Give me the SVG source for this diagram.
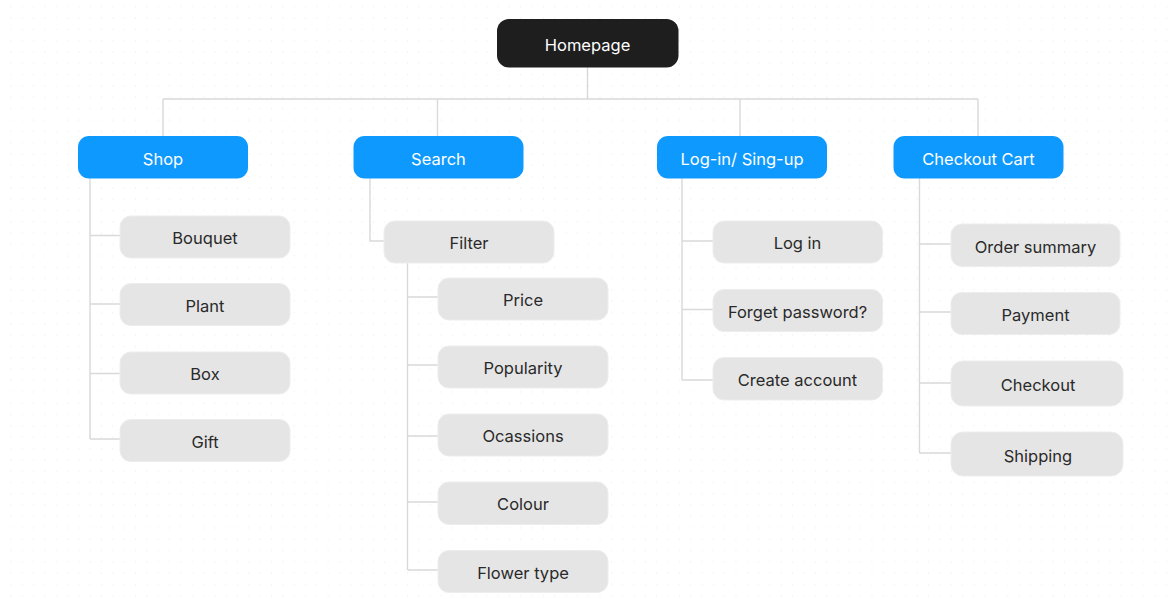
<svg xmlns="http://www.w3.org/2000/svg" width="1169" height="599" viewBox="0 0 1169 599">
<defs>
<pattern id="dots" x="0" y="0" width="11.33" height="11.33" patternUnits="userSpaceOnUse">
<rect x="11" y="6" width="1.4" height="1.4" fill="#cdcdcd"/>
</pattern>
<style>
.bg{fill:#ffffff}
.grid{fill:url(#dots)}
.conn{fill:none;stroke:#d9d9d9;stroke-width:1.4}
.root rect{fill:#1e1e1e}
.cat rect{fill:#0e99ff}
.leaf rect{fill:#e5e5e5;stroke:#ededed;stroke-width:1}
text{font-family:Inter,"Noto Sans","Liberation Sans",sans-serif;font-size:16.5px;text-anchor:middle;dominant-baseline:central}
.root text,.cat text{fill:#ffffff}
.leaf text{fill:#2a2a2a}
</style>
</defs>
<rect class="bg" width="1169" height="599"/>
<rect class="grid" width="1169" height="599"/>

<g id="connectors">
<path class="conn" d="M587.5 67 V99 M163 99 H978 M163 99 V136 M437.5 99 V136 M740 99 V136 M978 99 V136"/>
<path class="conn" d="M90 178 V439 M90 235.5 H120 M90 304 H120 M90 373.5 H120 M90 439 H120"/>
<path class="conn" d="M370 178 V241 H384"/>
<path class="conn" d="M407.5 263 V570 M407.5 297 H438 M407.5 365 H438 M407.5 436 H438 M407.5 502 H438 M407.5 570 H438"/>
<path class="conn" d="M682 178 V380 M682 241 H713 M682 309.5 H713 M682 380 H713"/>
<path class="conn" d="M919.5 178 V453 M919.5 244 H951 M919.5 312 H951 M919.5 383 H951 M919.5 453 H951"/>
</g>

<g id="homepage" class="root"><rect x="497" y="19" width="181.5" height="48.5" rx="12"/><text x="587.5" y="44.5">Homepage</text></g>

<g id="shop" class="cat"><rect x="78" y="136" width="170" height="42.5" rx="11"/><text x="163" y="158.5">Shop</text></g>
<g id="search" class="cat"><rect x="353.5" y="136" width="170" height="42.5" rx="11"/><text x="438.5" y="158.5">Search</text></g>
<g id="login-signup" class="cat"><rect x="657" y="136" width="170" height="42.5" rx="11"/><text x="742" y="158.5">Log-in/ Sing-up</text></g>
<g id="checkout-cart" class="cat"><rect x="893.5" y="136" width="170" height="42.5" rx="11"/><text x="978.5" y="158.5">Checkout Cart</text></g>

<g id="bouquet" class="leaf"><rect x="120" y="216" width="170" height="42" rx="11"/><text x="205" y="238">Bouquet</text></g>
<g id="plant" class="leaf"><rect x="120" y="283.5" width="170" height="42" rx="11"/><text x="205" y="305.5">Plant</text></g>
<g id="box" class="leaf"><rect x="120" y="352" width="170" height="42" rx="11"/><text x="205" y="374">Box</text></g>
<g id="gift" class="leaf"><rect x="120" y="419.5" width="170" height="42" rx="11"/><text x="205" y="441.5">Gift</text></g>

<g id="filter" class="leaf"><rect x="384" y="221" width="170" height="42" rx="11"/><text x="469" y="243">Filter</text></g>
<g id="price" class="leaf"><rect x="438" y="278" width="170" height="42" rx="11"/><text x="523" y="300">Price</text></g>
<g id="popularity" class="leaf"><rect x="438" y="346" width="170" height="42" rx="11"/><text x="523" y="368">Popularity</text></g>
<g id="ocassions" class="leaf"><rect x="438" y="414" width="170" height="42" rx="11"/><text x="523" y="436">Ocassions</text></g>
<g id="colour" class="leaf"><rect x="438" y="482" width="170" height="42.5" rx="11"/><text x="523" y="504">Colour</text></g>
<g id="flower-type" class="leaf"><rect x="438" y="550.5" width="170" height="42" rx="11"/><text x="523" y="572.5">Flower type</text></g>

<g id="log-in" class="leaf"><rect x="713" y="221" width="169.5" height="42" rx="11"/><text x="797.5" y="243">Log in</text></g>
<g id="forget-password" class="leaf"><rect x="713" y="289.5" width="169.5" height="42" rx="11"/><text x="797.5" y="311.5">Forget password?</text></g>
<g id="create-account" class="leaf"><rect x="713" y="357.5" width="169.5" height="42.5" rx="11"/><text x="797.5" y="379.5">Create account</text></g>

<g id="order-summary" class="leaf"><rect x="951" y="224" width="169" height="42.5" rx="11"/><text x="1035.5" y="246.5">Order summary</text></g>
<g id="payment" class="leaf"><rect x="951" y="292.5" width="169" height="42" rx="11"/><text x="1035.5" y="314.5">Payment</text></g>
<g id="checkout" class="leaf"><rect x="951" y="361" width="172" height="45" rx="12"/><text x="1038" y="385">Checkout</text></g>
<g id="shipping" class="leaf"><rect x="951" y="432" width="172" height="44" rx="12"/><text x="1038" y="456">Shipping</text></g>
</svg>
